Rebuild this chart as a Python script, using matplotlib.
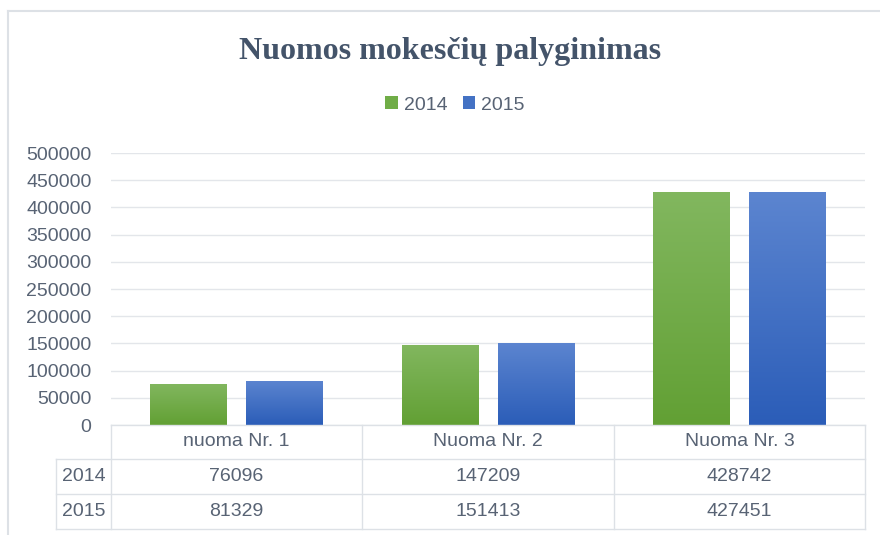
import numpy as np
import matplotlib.pyplot as plt
from matplotlib.lines import Line2D
from matplotlib.patches import Patch
from matplotlib.colors import to_rgb

# Data
categories = ["nuoma Nr. 1", "Nuoma Nr. 2", "Nuoma Nr. 3"]
years = ["2014", "2015"]
values_2014 = [76096, 147209, 428742]
values_2015 = [81329, 151413, 427451]
series = [values_2014, values_2015]

# colours (top of gradient, bottom of gradient, legend swatch)
green = ("#82b75f", "#62a034", "#70ad47")
blue = ("#5c85d0", "#2b5db8", "#4472c4")
bar_colors = [green, blue]

text_color = "#586374"
grid_color = "#e3e6ea"
line_color = "#dde1e6"

plt.rcParams['font.family'] = ['Liberation Sans', 'DejaVu Sans']

W, H = 880, 535
fig = plt.figure(figsize=(W / 100, H / 100), dpi=100)

# pixel helpers -> figure fraction
def fx(px):
    return px / W

def fy(py):
    return 1 - py / H

left, right, top, bottom = 111, 865, 153, 425
ax = fig.add_axes([fx(left), fy(bottom), fx(right - left), (bottom - top) / H])

x = np.arange(len(categories))
width = 0.306
offset = 0.191

for i, (vals, cols) in enumerate(zip(series, bar_colors)):
    pos = x + (offset if i else -offset)
    bars = ax.bar(pos, vals, width=width, color=cols[1], zorder=2,
                  edgecolor='none')
    top_c = np.array(to_rgb(cols[0]))
    bot_c = np.array(to_rgb(cols[1]))
    grad = np.linspace(0, 1, 256)[:, None]
    img = (top_c * (1 - grad) + bot_c * grad)[:, None, :]
    for b, p, v in zip(bars, pos, vals):
        im = ax.imshow(img, extent=[p - width / 2, p + width / 2, 0, v],
                       aspect='auto', origin='upper', zorder=3,
                       interpolation='bilinear')
        im.set_clip_path(b)

ax.set_xlim(-0.5, len(categories) - 0.5)
ax.set_ylim(0, 500000)
ax.set_yticks(np.arange(0, 500001, 50000))
ax.yaxis.grid(True, color=grid_color, linewidth=1, zorder=0)
ax.set_axisbelow(True)
ax.set_xticks([])
ax.tick_params(axis='y', length=0, pad=14, labelsize=14, labelcolor=text_color)
for s in ax.spines.values():
    s.set_visible(False)

# title
fig.text(fx(450), fy(59), "Nuomos mokesčių palyginimas", ha='center',
         va='baseline', fontsize=23, fontweight='bold', color='#44546a',
         family=['Liberation Serif', 'DejaVu Serif'])

# legend
handles = [Patch(facecolor=c[2], edgecolor='none') for c in bar_colors]
fig.legend(handles, years, loc='center', bbox_to_anchor=(fx(455), fy(105)),
           ncol=2, frameon=False, fontsize=14, labelcolor=text_color,
           handlelength=0.65, handleheight=0.65, handletextpad=0.3,
           columnspacing=0.8)

# outer chart frame
fig.add_artist(Line2D([fx(8), 1], [fy(11), fy(11)], color=line_color, lw=1.5))
fig.add_artist(Line2D([fx(8), fx(8)], [fy(11), 0], color=line_color, lw=1.5))

# data table under the axis
cols_x = [111, 362, 614, 865]
rows_y = [425, 459, 494, 529]
label_left = 56
fig.add_artist(Line2D([fx(111), fx(865)], [fy(425), fy(425)], color=line_color, lw=1))
for ry in rows_y[1:]:
    fig.add_artist(Line2D([fx(label_left), fx(865)], [fy(ry), fy(ry)], color=line_color, lw=1))
for cx in cols_x:
    fig.add_artist(Line2D([fx(cx), fx(cx)], [fy(425), fy(529)], color=line_color, lw=1))
fig.add_artist(Line2D([fx(label_left), fx(label_left)], [fy(459), fy(529)], color=line_color, lw=1))

for j, cat in enumerate(categories):
    cx = (cols_x[j] + cols_x[j + 1]) / 2
    fig.text(fx(cx), fy(442), cat, ha='center', va='center', fontsize=14, color=text_color)
    for i, vals in enumerate(series):
        cy = (rows_y[i + 1] + rows_y[i + 2]) / 2
        fig.text(fx(cx), fy(cy), str(vals[j]), ha='center', va='center',
                 fontsize=14, color=text_color)
for i, yr in enumerate(years):
    cy = (rows_y[i + 1] + rows_y[i + 2]) / 2
    fig.text(fx((label_left + 111) / 2), fy(cy), yr, ha='center', va='center',
             fontsize=14, color=text_color)

fig.savefig("out.png", dpi=100, facecolor='white')
